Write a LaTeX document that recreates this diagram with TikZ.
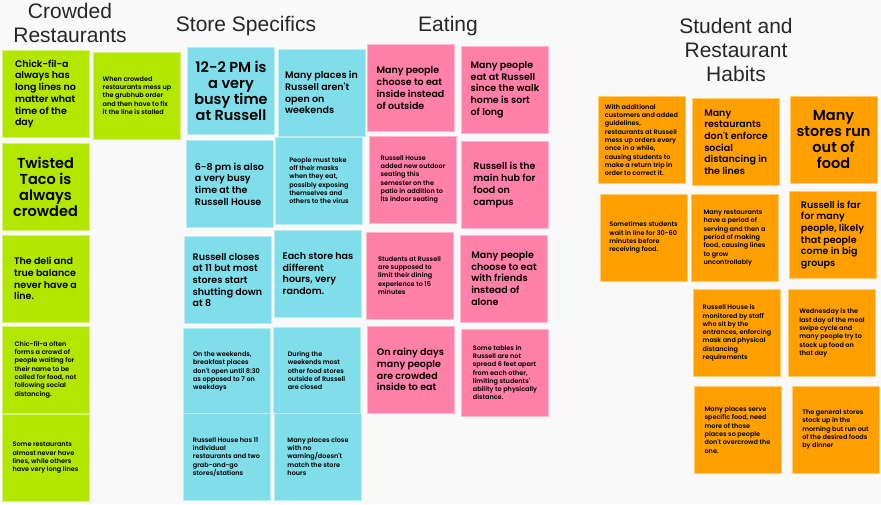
\documentclass[tikz,border=0pt]{standalone}
\usepackage{fontspec}
\setmainfont{Liberation Sans}
\newfontfamily\notefont{Poppins}[BoldFont={Poppins SemiBold}]
\usetikzlibrary{positioning}
\definecolor{bggray}{HTML}{F9F9F9}
\definecolor{lime}{HTML}{B3E600}
\definecolor{sky}{HTML}{80DEEA}
\definecolor{rose}{HTML}{FF80A8}
\definecolor{amber}{HTML}{FFA000}

\begin{document}
\begin{tikzpicture}[x=1pt, y=-1pt,
  sticky/.style={minimum width=87pt, minimum height=87pt, inner sep=0pt, align=left, text=black},
  bigtext/.style={align=center, font=\notefont\bfseries\fontsize{14.5}{16}\selectfont},
  midtext/.style={font=\notefont\bfseries\fontsize{9.5}{11.7}\selectfont},
  smalltext/.style={font=\notefont\bfseries\fontsize{6.5}{8.3}\selectfont},
  gnote/.style={sticky, fill=lime, draw=lime!55!white},
  bnote/.style={sticky, fill=sky, draw=sky!55!white},
  pnote/.style={sticky, fill=rose, draw=rose!55!white},
  onote/.style={sticky, fill=amber, draw=amber!55!white},
  heading/.style={anchor=north, align=center, inner sep=0pt, text=black!85, font=\fontsize{21}{24}\selectfont}]

  % board
  \fill[bggray] (0,0) rectangle (881,504);
  \useasboundingbox (0,0) rectangle (881,504);

  % headings
  \node[heading] (hcrowd) at (70,3) {Crowded\\Restaurants};
  \node[heading] (hstore) at (246,16) {Store Specifics};
  \node[heading] (heat) at (448,16) {Eating};
  \node[heading] (hhabit) at (736,18) {Student and\\Restaurant\\Habits};

  % Crowded Restaurants (green)
  \node[gnote, midtext] (g1) at (45.5,94) {Chick-fil-a\\always has\\long lines no\\matter what\\time of the\\day};
  \node[gnote, smalltext] (g2) at (137,95.5) {When crowded\\restaurants mess up\\the grubhub order\\and then have to fix\\it the line is stalled};
  \node[gnote, bigtext] (g3) at (45.5,186.5) {Twisted\\Taco is\\always\\crowded};
  \node[gnote, midtext] (g4) at (45.5,278.5) {The deli and\\true balance\\never have a\\line.};
  \node[gnote, smalltext] (g5) at (45.5,369.5) {Chic-fil-a often\\forms a crowd of\\people waiting for\\their name to be\\called for food, not\\following social\\distancing.};
  \node[gnote, smalltext] (g6) at (45.5,458) {Some restaurants\\almost never have\\lines, while others\\have very long lines};

  % Store Specifics (blue)
  \node[bnote, bigtext] (b1) at (231,91) {12-2 PM is\\a very\\busy time\\at Russell};
  \node[bnote, midtext] (b2) at (321.5,92.5) {Many places in\\Russell aren't\\open on\\weekends};
  \node[bnote, midtext] (b3) at (229.5,184) {6-8 pm is also\\a very busy\\time at the\\Russell House};
  \node[bnote, smalltext] (b4) at (319,180.5) {People must take\\off their masks\\when they eat,\\possibly exposing\\themselves and\\others to the virus};
  \node[bnote, midtext] (b5) at (227.5,280) {Russell closes\\at 11 but most\\stores start\\shutting down\\at 8};
  \node[bnote, midtext] (b6) at (318,273.5) {Each store has\\different\\hours, very\\random.};
  \node[bnote, smalltext] (b7) at (226.5,371.5) {On the weekends,\\breakfast places\\don't open until 8:30\\as opposed to 7 on\\weekdays};
  \node[bnote, smalltext] (b8) at (316.5,370.5) {During the\\weekends most\\other food stores\\outside of Russell\\are closed};
  \node[bnote, smalltext] (b9) at (226.5,457) {Russell House has 11\\individual\\restaurants and two\\grab-and-go\\stores/stations};
  \node[bnote, smalltext] (b10) at (318,456.5) {Many places close\\with no\\warning/doesn't\\match the store\\hours};

  % Eating (pink)
  \node[pnote, midtext] (p1) at (410.5,88) {Many people\\choose to eat\\inside instead\\of outside};
  \node[pnote, midtext] (p2) at (505,89.5) {Many people\\eat at Russell\\since the walk\\home is sort\\of long};
  \node[pnote, smalltext] (p3) at (413,179.5) {Russell House\\added new outdoor\\seating this\\semester on the\\patio in addition to\\its indoor seating};
  \node[pnote, midtext] (p4) at (504.5,185) {Russell is the\\main hub for\\food on\\campus};
  \node[pnote, smalltext] (p5) at (409.5,275.5) {Students at Russell\\are supposed to\\limit their dining\\experience to 15\\minutes};
  \node[pnote, midtext] (p6) at (504,278.5) {Many people\\choose to eat\\with friends\\instead of\\alone};
  \node[pnote, midtext] (p7) at (410.5,369.5) {On rainy days\\many people\\are crowded\\inside to eat};
  \node[pnote, smalltext] (p8) at (505,372.5) {Some tables in\\Russell are not\\spread 6 feet apart\\from each other,\\limiting students'\\ability to physically\\distance.};

  % Student and Restaurant Habits (orange)
  \node[onote, smalltext] (o1) at (641.5,140) {With additional\\customers and added\\guidelines,\\restaurants at Russell\\mess up orders every\\once in a while,\\causing students to\\make a return trip in\\order to correct it.};
  \node[onote, midtext] (o2) at (736,142) {Many\\restaurants\\don't enforce\\social\\distancing in\\the lines};
  \node[onote, bigtext] (o3) at (833.5,139.5) {Many\\stores run\\out of\\food};
  \node[onote, smalltext] (o4) at (643.5,237.5) {Sometimes students\\wait in line for 30-60\\minutes before\\receiving food.};
  \node[onote, smalltext] (o5) at (734.5,238) {Many restaurants\\have a period of\\serving and then a\\period of making\\food, causing lines\\to grow\\uncontrollably};
  \node[onote, midtext] (o6) at (832.5,235) {Russell is far\\for many\\people, likely\\that people\\come in big\\groups};
  \node[onote, smalltext] (o7) at (737,333) {Russell House is\\monitored by staff\\who sit by the\\entrances, enforcing\\mask and physical\\distancing\\requirements};
  \node[onote, smalltext] (o8) at (832,333) {Wednesday is the\\last day of the meal\\swipe cycle and\\many people try to\\stock up food on\\that day};
  \node[onote, smalltext] (o9) at (737.5,430) {Many places serve\\specific food, need\\more of those\\places so people\\don't overcrowd the\\one.};
  \node[onote, smalltext] (o10) at (835.5,429.5) {The general stores\\stock up in the\\morning but run out\\of the desired foods\\by dinner};
\end{tikzpicture}
\end{document}
